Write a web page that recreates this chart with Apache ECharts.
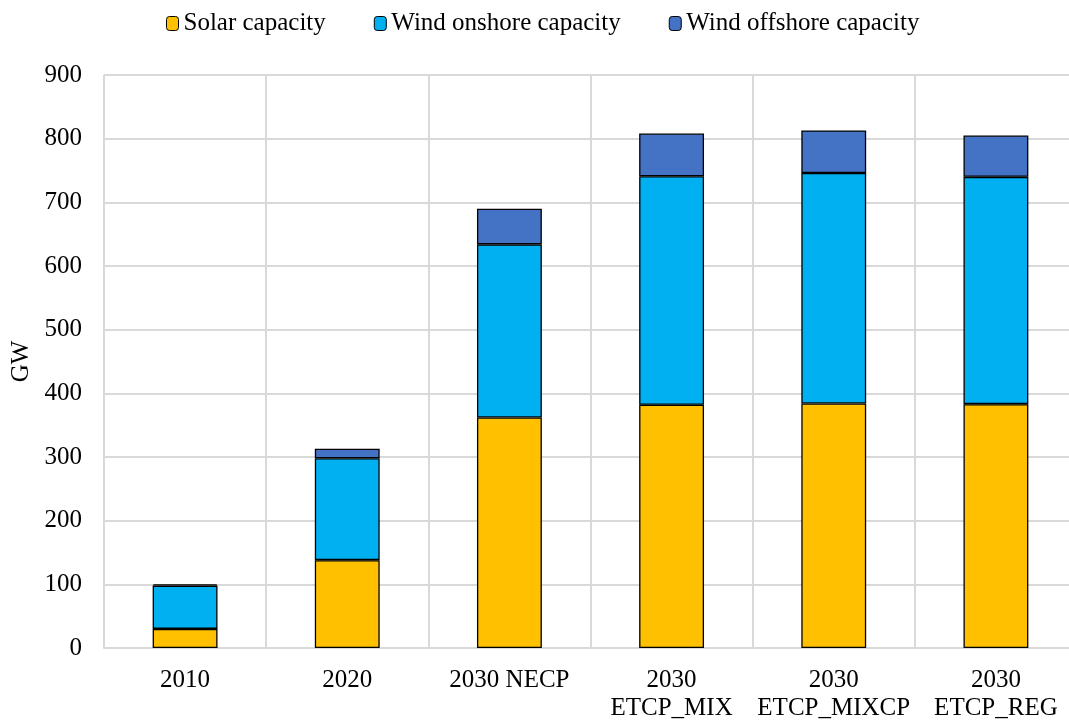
<!DOCTYPE html>
<html>
<head>
<meta charset="utf-8">
<script src="https://cdn.jsdelivr.net/npm/echarts@6/dist/echarts.min.js"></script>
<style>
  html, body { margin: 0; padding: 0; background: #fff; overflow: hidden; }
  /* canvas is a little wider than the window so the last column runs off the edge */
  #chart { width: 1080px; height: 723px; }
</style>
</head>
<body>
<div id="chart"></div>
<script>
// Installed renewable capacity by scenario (GW)
const categories = ['2010', '2020', '2030 NECP', '2030\nETCP_MIX', '2030\nETCP_MIXCP', '2030\nETCP_REG'];
const solar = [30, 138, 362, 382, 384, 383];
const windOnshore = [68, 160, 272, 359, 362, 357];
const windOffshore = [2, 15, 56, 67, 67, 65];
const yTicks = [0, 100, 200, 300, 400, 500, 600, 700, 800, 900];

const FONT = '"Liberation Serif", "DejaVu Serif", serif';
const GRID = '#d9d9d9';
const FS = 25;

const chart = echarts.init(document.getElementById('chart'));

function barSeries(name, data, color) {
  return {
    name: name,
    type: 'bar',
    stack: 'cap',
    data: data,
    barCategoryGap: '60%',
    itemStyle: { color: color, borderColor: '#000', borderWidth: 1.3 }
  };
}

chart.setOption({
  animation: false,
  textStyle: { fontFamily: FONT },
  legend: {
    top: 6,
    left: 161,
    itemWidth: 12,
    itemHeight: 14,
    itemGap: 48,
    textStyle: { fontFamily: FONT, fontSize: FS, color: '#000' },
    data: [
      { name: 'Solar capacity', itemStyle: { borderColor: '#000', borderWidth: 1 } },
      { name: 'Wind onshore capacity', itemStyle: { borderColor: '#000', borderWidth: 1 } },
      { name: 'Wind offshore capacity', itemStyle: { borderColor: '#000', borderWidth: 1 } }
    ]
  },
  grid: { left: 104, right: 3, top: 75, bottom: 75, containLabel: false },
  xAxis: {
    type: 'category',
    data: categories,
    axisTick: { show: false },
    axisLine: { show: true, lineStyle: { color: GRID, width: 2 } },
    splitLine: { show: true, lineStyle: { color: GRID, width: 2 } },
    axisLabel: { fontFamily: FONT, fontSize: FS, color: '#000', margin: 18, lineHeight: 28, interval: 0 }
  },
  yAxis: {
    type: 'value',
    min: 0,
    max: 900,
    interval: 100,
    name: 'GW',
    nameLocation: 'middle',
    nameGap: 70,
    nameRotate: 90,
    nameTextStyle: { fontFamily: FONT, fontSize: FS, color: '#000' },
    axisLine: { show: false },
    axisTick: { show: false },
    splitLine: { show: true, lineStyle: { color: GRID, width: 2 } },
    axisLabel: {
      fontFamily: FONT, fontSize: FS, color: '#000', margin: 22,
      formatter: v => (yTicks.indexOf(v) >= 0 ? String(v) : '')
    }
  },
  series: [
    barSeries('Solar capacity', solar, '#FFC000'),
    barSeries('Wind onshore capacity', windOnshore, '#00B0F0'),
    barSeries('Wind offshore capacity', windOffshore, '#4472C4')
  ]
});
</script>
</body>
</html>
